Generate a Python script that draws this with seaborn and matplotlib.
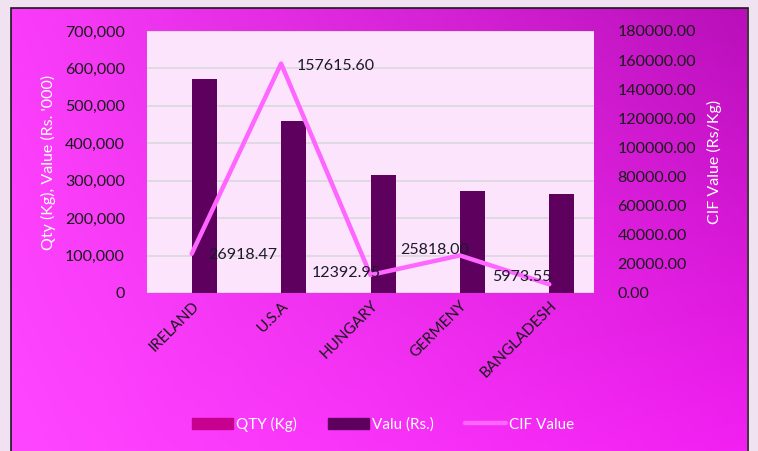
import numpy as np
import pandas as pd
import matplotlib
matplotlib.use("Agg")
import matplotlib.pyplot as plt
import seaborn as sns
from matplotlib.patches import Rectangle, Patch
from matplotlib.lines import Line2D
from matplotlib.ticker import FuncFormatter, MultipleLocator

# data
countries = ["IRELAND", "U.S.A", "HUNGARY", "GERMENY", "BANGLADESH"]
qty_kg = [210, 30, 250, 105, 440]
value_rs = [572000, 460000, 315000, 272000, 264000]
cif_value = [26918.47, 157615.60, 12392.95, 25818.00, 5973.55]
cif_labels = ["26918.47", "157615.60", "12392.95", "25818.00", "5973.55"]
# label offsets (px) relative to each point: left edge x, vertical centre y (up = +)
label_dx = [17, 16, -59, -60, -57]
label_dy = [-1, -2, 2, 5, 7]

qty_color = "#C8008F"
val_color = "#5E005E"
cif_color = "#FF66FF"

sns.set_theme(style="white")
plt.rcParams["font.family"] = ["Lato", "DejaVu Sans"]

fig = plt.figure(figsize=(7.58, 4.51), dpi=100)
fig.patch.set_facecolor("#F0E2F0")

# gradient background of the chart area
bg = fig.add_axes([0, 0, 1, 1], zorder=-5)
h, w = 100, 200
yy, xx = np.mgrid[0:1:h * 1j, 0:1:w * 1j]
tl = np.array([250, 60, 250]); tr = np.array([185, 15, 185])
bl = np.array([255, 70, 255]); br = np.array([242, 32, 242])
img = ((1 - xx)[..., None] * (1 - yy)[..., None] * tl + xx[..., None] * (1 - yy)[..., None] * tr
       + (1 - xx)[..., None] * yy[..., None] * bl + xx[..., None] * yy[..., None] * br) / 255
bg.imshow(img, extent=[11 / 758, 747 / 758, 0, 443 / 451], aspect="auto")
bg.set_xlim(0, 1); bg.set_ylim(0, 1)
bg.add_patch(Rectangle((10.5 / 758, -0.05), 737 / 758, 443.5 / 451 + 0.05, fill=False,
                       edgecolor="#1a1a1a", lw=1.2))
bg.axis("off")

ax = fig.add_axes([147 / 758, (451 - 293) / 451, 447 / 758, 262 / 451])
ax.set_facecolor("#FDE4FD")

df = pd.DataFrame({
    "country": countries * 2,
    "series": ["QTY (Kg)"] * 5 + ["Valu (Rs.)"] * 5,
    "amount": qty_kg + value_rs,
})
sns.barplot(data=df, x="country", y="amount", hue="series", order=countries,
            palette=[qty_color, val_color], width=0.56, saturation=1, linewidth=0,
            ax=ax, legend=False, zorder=3)
ax.set_ylim(0, 700000)
ax.set_xlim(-0.5, 4.5)
ax.yaxis.set_major_locator(MultipleLocator(100000))
ax.yaxis.set_major_formatter(FuncFormatter(lambda v, p: f"{int(v):,}"))
ax.grid(axis="y", color="#D9D9D9", lw=1.2, zorder=0)
ax.set_axisbelow(True)
for s in ax.spines.values():
    s.set_visible(False)
ax.set_xlabel("")
ax.set_ylabel("Qty (Kg), Value (Rs. '000)", color="white", fontsize=11.5, labelpad=6)
ax.tick_params(axis="y", length=0, pad=16, labelsize=11.5, labelcolor="#1a1a1a")
ax.tick_params(axis="x", length=0, pad=4, labelsize=11, labelcolor="#1a1a1a")
for t in ax.get_xticklabels():
    t.set_rotation(45)
    t.set_ha("right")
    t.set_rotation_mode("anchor")

ax2 = ax.twinx()
line_df = pd.DataFrame({"pos": np.arange(len(countries)), "cif": cif_value})
sns.lineplot(data=line_df, x="pos", y="cif", color=cif_color, lw=3.2, ax=ax2, zorder=4)
ax2.set_ylim(0, 180000)
ax2.yaxis.set_major_locator(MultipleLocator(20000))
ax2.yaxis.set_major_formatter(FuncFormatter(lambda v, p: f"{v:.2f}"))
ax2.tick_params(axis="y", length=0, pad=17, labelsize=11.5, labelcolor="#1a1a1a")
ax2.set_ylabel("CIF Value (Rs/Kg)", color="white", fontsize=11.5, labelpad=8)
ax2.set_xlabel("")
for s in ax2.spines.values():
    s.set_visible(False)

for i, (v, lab) in enumerate(zip(cif_value, cif_labels)):
    ax2.annotate(lab, (i, v), xytext=(label_dx[i] * 0.72, label_dy[i] * 0.72),
                 textcoords="offset points", ha="left", va="center", fontsize=11.5,
                 color="#1a1a2a", zorder=6)

handles = [Patch(color=qty_color), Patch(color=val_color), Line2D([0], [0], color=cif_color, lw=3.2)]
fig.legend(handles, ["QTY (Kg)", "Valu (Rs.)", "CIF Value"], loc="center", ncol=3,
           bbox_to_anchor=(383 / 758, 1 - 424 / 451), frameon=False, fontsize=11,
           labelcolor="white", handlelength=2.7, handleheight=0.7, columnspacing=2.0,
           handletextpad=0.2)

fig.savefig("out.png", dpi=100, facecolor=fig.get_facecolor())
